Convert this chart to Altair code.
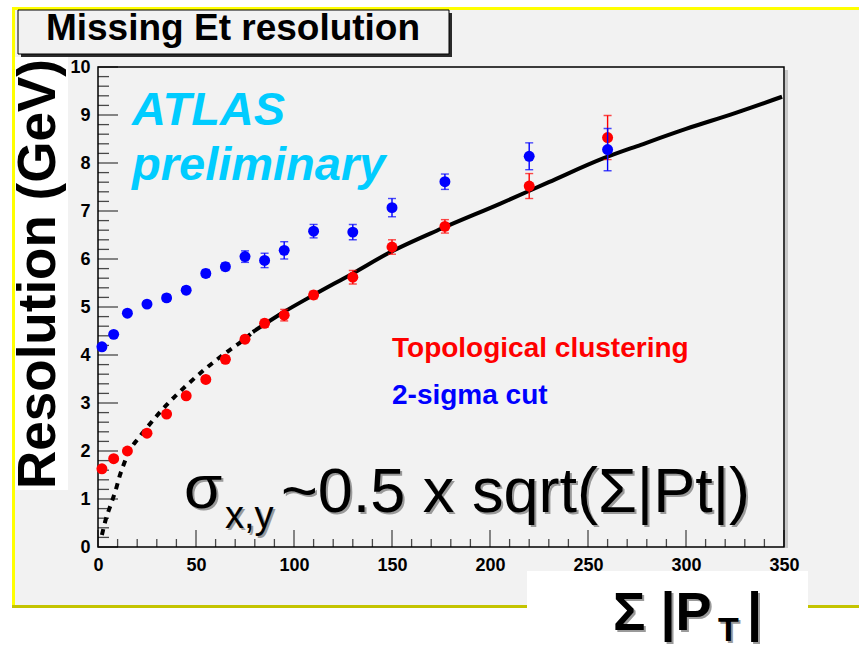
import altair as alt
import pandas as pd

# ---- measured points: resolution vs sum|pT| ----
sum_pt = [2, 8, 15, 25, 35, 45, 55, 65, 75, 85, 95, 110, 130, 150, 177, 220, 260]
topo_res = [1.63, 1.84, 2.0, 2.37, 2.77, 3.15, 3.49, 3.91, 4.33, 4.66, 4.83, 5.25, 5.62, 6.25, 6.68, 7.52, 8.53]
topo_err = [0.04, 0.04, 0.04, 0.05, 0.05, 0.06, 0.06, 0.07, 0.07, 0.08, 0.12, 0.08, 0.14, 0.15, 0.14, 0.26, 0.46]
sigma_res = [4.17, 4.43, 4.87, 5.06, 5.19, 5.35, 5.70, 5.84, 6.05, 5.97, 6.18, 6.58, 6.56, 7.07, 7.61, 8.14, 8.28]
sigma_err = [0.05, 0.05, 0.05, 0.06, 0.07, 0.07, 0.08, 0.08, 0.12, 0.15, 0.18, 0.14, 0.16, 0.19, 0.16, 0.28, 0.44]

# ---- fitted curve, dashed below ~80 GeV and solid above ----
fit_dash_x = [2, 4, 6.5, 9, 11, 13.5, 16, 20.5, 25, 35, 45, 55, 65, 75, 79]
fit_dash_y = [0.25, 0.58, 0.88, 1.18, 1.47, 1.76, 2.0, 2.26, 2.49, 2.96, 3.36, 3.72, 4.04, 4.34, 4.48]
fit_solid_x = [79, 95, 110, 130, 149, 175, 205, 230, 258, 277, 300, 325, 349]
fit_solid_y = [4.48, 4.90, 5.25, 5.70, 6.14, 6.63, 7.15, 7.60, 8.10, 8.38, 8.71, 9.04, 9.38]

# ---- axis ticks ----
x_labels = [0, 50, 100, 150, 200, 250, 300, 350]
x_minor = [v for v in range(0, 351, 10) if v % 50]
y_labels = list(range(0, 11))
y_minor = [round(i * 0.2, 1) for i in range(51) if i % 5]

FONT = "Liberation Sans"
W, H = 686, 480

xs = alt.Scale(domain=[0, 350], nice=False, zero=False)
ys = alt.Scale(domain=[0, 10], nice=False, zero=False)
xax = alt.Axis(values=x_labels, ticks=False, domain=False, grid=False, labelFont=FONT,
               labelFontSize=18, labelFontWeight="bold", labelColor="black",
               labelPadding=9, title=None, zindex=1, labelFlush=False)
yax = alt.Axis(values=y_labels, ticks=False, domain=False, grid=False, labelFont=FONT,
               labelFontSize=18, labelFontWeight="bold", labelColor="black",
               labelPadding=8, title=None, zindex=1, labelFlush=False)


def X(field):
    return alt.X(field, type="quantitative", scale=xs, axis=xax)


def Y(field):
    return alt.Y(field, type="quantitative", scale=ys, axis=yax)


one = pd.DataFrame({"k": [0]})


def box(x1, x2, y1, y2, fill, stroke=None, sw=1.0, opacity=1.0):
    props = dict(fill=fill, fillOpacity=opacity)
    if stroke:
        props.update(stroke=stroke, strokeWidth=sw)
    return alt.Chart(one).mark_rect(**props).encode(
        x=alt.value(x1), x2=alt.value(x2), y=alt.value(y1), y2=alt.value(y2))


def label(text, px, py, size, color="black", weight="normal", style="normal",
          align="left", baseline="alphabetic", angle=0):
    props = dict(text=text, font=FONT, fontSize=size, fontWeight=weight,
                 fontStyle=style, color=color, align=align, baseline=baseline)
    if angle:
        props["angle"] = angle
    return alt.Chart(one).mark_text(**props).encode(x=alt.value(px), y=alt.value(py))


def shadowed(text, px, py, size, weight="normal"):
    return [label(text, px + 2, py + 2, size, color="#9a9a9a", weight=weight),
            label(text, px, py, size, weight=weight)]


# ---- page furniture ----
panel = box(-83, 761, -57, 539, "#f2f2f2")
yellow_top = box(-86, 761, -60, -57, "#ffff00")
yellow_left = box(-86, -83, -60, 541, "#ffff00")
olive_bottom = box(-86, 761, 538, 541, "#c4c400")

title_shadow = box(-77, 354, -54, -10, "#2a2a2a")
title_box = box(-80, 351, -57, -13, "#f2f2f2", stroke="black", sw=1)
title_text = label("Missing Et resolution", 135, -27, 37, weight="bold", align="center")

ytitle_box = box(-83, -30, -10, 423, "white")
ytitle = label("Resolution (GeV)", -43, 207, 53, weight="bold", align="center", angle=270)

frame_shadow = box(W + 1, W + 4, 3, H + 1, "#c8c8c8")
frame = box(0, W, 0, H, "white", stroke="black", sw=1.5, opacity=0)

# ---- inward ticks (ticks centred half a length inside the frame) ----
yt_major = alt.Chart(pd.DataFrame({"v": y_labels})).mark_tick(
    color="black", orient="horizontal", size=20, thickness=1.3).encode(y=Y("v"), x=alt.value(10))
yt_minor = alt.Chart(pd.DataFrame({"v": y_minor})).mark_tick(
    color="black", orient="horizontal", size=11, thickness=1.3).encode(y=Y("v"), x=alt.value(5.5))
xt_major = alt.Chart(pd.DataFrame({"v": x_labels})).mark_tick(
    color="black", orient="vertical", size=17, thickness=1.3).encode(x=X("v"), y=alt.value(H - 8.5))
xt_minor = alt.Chart(pd.DataFrame({"v": x_minor})).mark_tick(
    color="black", orient="vertical", size=8, thickness=1.3).encode(x=X("v"), y=alt.value(H - 4))

# ---- fit curve ----
dash_df = pd.DataFrame({"x": fit_dash_x, "y": fit_dash_y})
solid_df = pd.DataFrame({"x": fit_solid_x, "y": fit_solid_y})
fit_dash = alt.Chart(dash_df).mark_line(color="black", strokeWidth=4, strokeDash=[6, 6],
                                        interpolate="monotone").encode(
    x=X("x"), y=Y("y"), order="x:Q")
fit_solid = alt.Chart(solid_df).mark_line(color="black", strokeWidth=4,
                                          interpolate="monotone").encode(
    x=X("x"), y=Y("y"), order="x:Q")


def series(values, errors, color):
    df = pd.DataFrame({"x": sum_pt, "y": values, "e": errors})
    df["lo"] = df["y"] - df["e"]
    df["hi"] = df["y"] + df["e"]
    caps = pd.concat([df[["x", "lo"]].rename(columns={"lo": "c"}),
                      df[["x", "hi"]].rename(columns={"hi": "c"})])
    bars = alt.Chart(df).mark_rule(color=color, strokeWidth=1.4).encode(
        x=X("x"), y=Y("lo"), y2="hi")
    cap = alt.Chart(caps).mark_tick(color=color, orient="horizontal", size=8, thickness=1.4).encode(
        x=X("x"), y=Y("c"))
    pts = alt.Chart(df).mark_circle(color=color, size=120, opacity=1).encode(x=X("x"), y=Y("y"))
    return [bars, cap, pts]


# ---- annotations ----
atlas = label("ATLAS", 34, 58, 47, color="#00ccff", weight="bold", style="italic")
prelim = label("preliminary", 34, 113, 47, color="#00ccff", weight="bold", style="italic")
leg_topo = label("Topological clustering", 294, 290, 28, color="#ff0000", weight="bold")
leg_sigma = label("2-sigma cut", 294, 337, 28, color="#0000ff", weight="bold")

formula = (shadowed("σ", 86, 441, 62)
           + shadowed("x,y", 127, 461, 38)
           + shadowed("~0.5 x sqrt(Σ|Pt|)", 183, 445, 63))

xtitle_box = box(429, 710, 504, 581, "white")
xtitle = (shadowed("Σ |P", 515, 563, 54, weight="bold")
          + shadowed("T", 620, 574, 34, weight="bold")
          + shadowed("|", 649, 563, 54, weight="bold"))

layers = ([panel, yellow_top, yellow_left, olive_bottom, title_shadow, title_box, title_text,
           ytitle_box, ytitle, frame_shadow, frame, yt_major, yt_minor, xt_major, xt_minor,
           fit_dash, fit_solid]
          + series(topo_res, topo_err, "#ff0000")
          + series(sigma_res, sigma_err, "#0000ff")
          + [atlas, prelim, leg_topo, leg_sigma] + formula + [xtitle_box] + xtitle)

chart = alt.layer(*layers).properties(
    width=W, height=H,
    autosize=alt.AutoSizeParams(type="none"),
    padding={"left": 98, "top": 67, "right": 75, "bottom": 101},
    background="white",
).configure_view(stroke=None)

chart.save("out.html", embed_options={"renderer": "svg", "actions": False})
